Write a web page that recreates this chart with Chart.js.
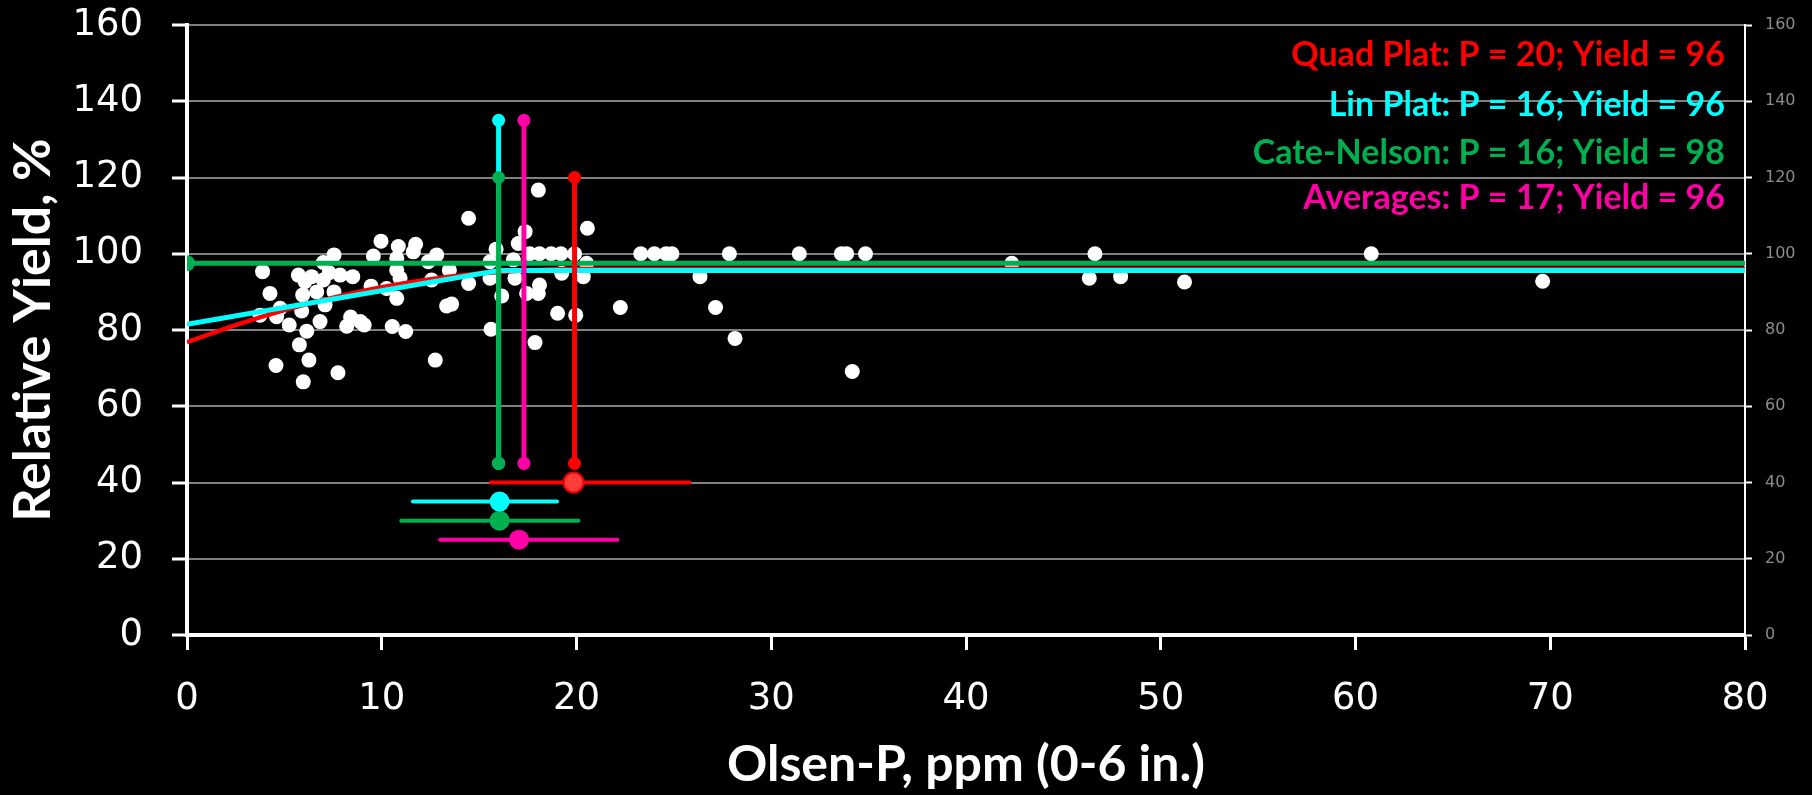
<!DOCTYPE html>
<html>
<head>
<meta charset="utf-8">
<script src="https://cdn.jsdelivr.net/npm/chart.js@4"></script>
<style>
  html, body { margin: 0; padding: 0; background: #000; }
  #wrap { width: 1812px; height: 795px; position: relative; }
</style>
</head>
<body>
<div id="wrap"><canvas id="chart"></canvas></div>
<script>
// observed points
const olsenP = [3.75, 3.88, 4.26, 4.57, 4.6, 4.78, 5.25, 5.72, 5.77, 5.89, 5.94, 5.97, 6.06, 6.15, 6.26, 6.4, 6.66, 6.83, 7.0, 7.0,
  7.09, 7.3, 7.55, 7.55, 7.75, 7.86, 8.2, 8.4, 8.51, 8.9, 9.1, 9.45, 9.57, 9.96, 10.25, 10.54, 10.77, 10.77, 10.77, 10.85,
  10.94, 11.23, 11.62, 11.74, 12.39, 12.56, 12.75, 12.82, 13.33, 13.59, 13.47, 14.46, 14.46, 15.56, 15.56, 15.61, 15.87, 16.16, 16.76, 16.84,
  17.01, 17.36, 17.44, 17.6, 17.87, 18.04, 18.04, 18.1, 18.1, 18.7, 19.03, 19.2, 19.24, 19.9, 19.96, 20.35, 20.52, 20.56, 22.25, 23.3,
  24.0, 24.6, 24.9, 26.34, 27.14, 27.85, 28.14, 31.44, 33.6, 33.87, 34.16, 34.84, 42.35, 46.33, 46.62, 47.94, 51.22, 60.81, 69.61];
const relYield = [83.9, 95.3, 89.6, 70.7, 83.5, 85.7, 81.3, 94.4, 76.1, 85.0, 89.2, 66.4, 92.7, 79.7, 72.1, 94.0, 90.0, 82.2, 93.1, 97.7,
  86.6, 95.0, 99.7, 90.0, 68.8, 94.4, 81.0, 83.4, 94.0, 82.2, 81.3, 91.5, 99.4, 103.3, 90.9, 80.9, 98.8, 95.7, 88.3, 101.9,
  93.6, 79.6, 100.5, 102.5, 97.9, 93.1, 72.1, 99.7, 86.3, 86.8, 95.7, 109.3, 92.2, 97.9, 93.6, 80.2, 101.2, 88.9, 98.4, 93.6,
  102.7, 105.8, 89.6, 100, 76.7, 116.7, 89.6, 91.8, 100, 100, 84.4, 100, 94.9, 100, 83.9, 94.0, 97.5, 106.7, 85.9, 100,
  100, 100, 100, 94.0, 85.9, 100, 77.8, 100, 100, 100, 69.1, 100, 97.5, 93.6, 100, 94.0, 92.6, 100, 92.8];

// fitted models
const quadP = [0, 2.5, 5, 7.5, 10, 12.5, 15, 17.5, 20, 80];
const quadYield = [76.8, 81.3, 85.2, 88.5, 91.2, 93.3, 94.8, 95.7, 96, 96];
const linP = [0, 16, 80];
const linYield = [81.5, 95.6, 95.6];
const cnP = [0, 80];
const cnYield = [97.5, 97.5];

// critical value markers (vertical lines)
const critNames = ['Lin Plat', 'Cate-Nelson', 'Averages', 'Quad Plat'];
const critP = [16, 16, 17.3, 19.9];
const critLow = [45, 45, 45, 45];
const critHigh = [135, 120, 135, 120];

// confidence ranges at the bottom
const ciNames = ['Quad Plat', 'Lin Plat', 'Cate-Nelson', 'Averages'];
const ciLow = [15.6, 11.6, 11.0, 13.0];
const ciEst = [19.85, 16.05, 16.05, 17.05];
const ciHigh = [25.8, 19.0, 20.1, 22.1];
const ciLevel = [40, 35, 30, 25];

const xTicks = [0, 10, 20, 30, 40, 50, 60, 70, 80];
const yTicks = [0, 20, 40, 60, 80, 100, 120, 140, 160];

const legendLines = [
  'Quad Plat: P = 20; Yield = 96',
  'Lin Plat: P = 16; Yield = 96',
  'Cate-Nelson: P = 16; Yield = 98',
  'Averages: P = 17; Yield = 96'
];

const RED = '#ff0000';
const CYAN = '#00ffff';
const GREEN = '#00b050';
const PINK = '#ff00a6';
const colorOf = { 'Quad Plat': RED, 'Lin Plat': CYAN, 'Cate-Nelson': GREEN, 'Averages': PINK };
const legendColors = [RED, CYAN, GREEN, PINK];

const pts = (xs, ys) => xs.map((x, i) => ({ x: x, y: ys[i] }));

const datasets = [];

datasets.push({
  label: 'Observed',
  data: pts(olsenP, relYield),
  showLine: false,
  pointRadius: 7.5,
  pointBackgroundColor: '#ffffff',
  pointBorderWidth: 0,
  order: 100
});

datasets.push({
  label: 'Quad Plat',
  data: pts(quadP, quadYield),
  showLine: true,
  borderColor: RED,
  borderWidth: 4.5,
  cubicInterpolationMode: 'monotone',
  pointRadius: 0,
  order: 50
});

datasets.push({
  label: 'Lin Plat',
  data: pts(linP, linYield),
  showLine: true,
  borderColor: CYAN,
  borderWidth: 5,
  pointRadius: 0,
  order: 40
});

datasets.push({
  label: 'Cate-Nelson',
  data: pts(cnP, cnYield),
  showLine: true,
  borderColor: GREEN,
  borderWidth: 5,
  pointRadius: [8, 0],
  pointBackgroundColor: GREEN,
  pointBorderWidth: 0,
  order: 30
});

critNames.forEach((name, i) => {
  datasets.push({
    label: name + ' critical',
    data: [{ x: critP[i], y: critLow[i] }, { x: critP[i], y: critHigh[i] }],
    showLine: true,
    borderColor: colorOf[name],
    borderWidth: 5,
    pointRadius: 6.5,
    pointBackgroundColor: colorOf[name],
    pointBorderWidth: 0,
    order: name === 'Cate-Nelson' ? 20 : 25 - i
  });
});

ciNames.forEach((name, i) => {
  const isQuad = name === 'Quad Plat';
  datasets.push({
    label: name + ' range',
    data: [{ x: ciLow[i], y: ciLevel[i] }, { x: ciEst[i], y: ciLevel[i] }, { x: ciHigh[i], y: ciLevel[i] }],
    showLine: true,
    borderColor: colorOf[name],
    borderWidth: 4,
    borderCapStyle: 'round',
    pointRadius: [0, 10, 0],
    pointBackgroundColor: isQuad ? '#ff3c3c' : colorOf[name],
    pointBorderColor: isQuad ? '#ee0000' : colorOf[name],
    pointBorderWidth: isQuad ? 2 : 0,
    order: 10
  });
});

const legendText = {
  id: 'legendText',
  afterDraw(chart) {
    const ctx = chart.ctx;
    ctx.save();
    ctx.font = 'bold 34px Lato';
    ctx.textAlign = 'right';
    ctx.textBaseline = 'middle';
    const ys = [55, 105, 153, 198];
    legendLines.forEach((t, i) => {
      ctx.fillStyle = legendColors[i];
      ctx.fillText(t, 1725, ys[i]);
    });
    ctx.restore();
  }
};

const tickFont = { family: 'DejaVu Sans', size: 37 };

// chart area fixed: left 187, right 1745, top 25, bottom 635
function fixY(width) {
  return (scale) => { scale.width = width; scale.paddingTop = 0; scale.paddingBottom = 0; };
}

new Chart(document.getElementById('chart').getContext('2d'), {
  type: 'scatter',
  data: { datasets: datasets },
  plugins: [legendText],
  options: {
    responsive: true,
    maintainAspectRatio: false,
    animation: false,
    layout: { padding: { top: 25, left: 0, right: 0, bottom: 0 } },
    plugins: {
      legend: { display: false },
      tooltip: { enabled: false }
    },
    scales: {
      x: {
        type: 'linear',
        min: 0,
        max: 80,
        afterBuildTicks: (scale) => { scale.ticks = xTicks.map(v => ({ value: v })); },
        afterFit: (scale) => { scale.height = 160; scale.paddingLeft = 0; scale.paddingRight = 0; },
        ticks: { color: '#ffffff', font: tickFont, padding: 27, maxRotation: 0 },
        grid: { drawOnChartArea: false, tickLength: 15, tickColor: '#ffffff', tickWidth: 3 },
        border: { color: '#ffffff', width: 4 },
        title: { display: true, text: 'Olsen-P, ppm (0-6 in.)', color: '#ffffff',
          font: { family: 'Lato', size: 50, weight: 'bold' }, padding: { top: 0, bottom: 0 } }
      },
      y: {
        type: 'linear',
        position: 'left',
        min: 0,
        max: 160,
        afterBuildTicks: (scale) => { scale.ticks = yTicks.map(v => ({ value: v })); },
        afterFit: fixY(187),
        ticks: { color: '#ffffff', font: tickFont, padding: 29 },
        grid: { color: '#808080', lineWidth: 2, tickLength: 15, tickColor: '#ffffff', tickWidth: 3 },
        border: { color: '#ffffff', width: 4 },
        title: { display: true, text: 'Relative Yield, %', color: '#ffffff',
          font: { family: 'Lato', size: 52, weight: 'bold' }, padding: { top: 2, bottom: 0 } }
      },
      y2: {
        type: 'linear',
        position: 'right',
        min: 0,
        max: 160,
        afterBuildTicks: (scale) => { scale.ticks = yTicks.map(v => ({ value: v })); },
        afterFit: fixY(67),
        ticks: { color: '#8c8c8c', font: { family: 'DejaVu Sans', size: 16 }, padding: 13 },
        grid: { drawOnChartArea: false, tickLength: 7, tickColor: '#ffffff', tickWidth: 2 },
        border: { color: '#ffffff', width: 2 }
      }
    }
  }
});
</script>
</body>
</html>
